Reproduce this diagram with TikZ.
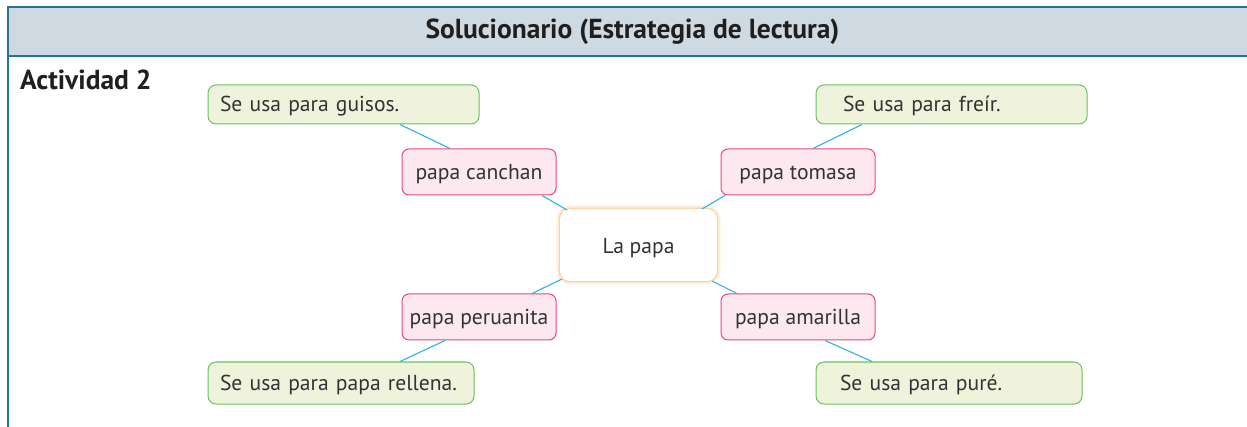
\documentclass[tikz,border=0pt]{standalone}
\usepackage{fontspec}
\setmainfont{PT Sans}
\usetikzlibrary{calc}
\definecolor{hdrfill}{HTML}{CFD9E1}
\definecolor{hdrline}{HTML}{25758F}
\definecolor{txt}{HTML}{333333}
\definecolor{gfill}{HTML}{EFF3DC}
\definecolor{gline}{HTML}{6CBF5C}
\definecolor{pfill}{HTML}{FDE8F0}
\definecolor{pline}{HTML}{E8477C}
\definecolor{cline}{HTML}{2AB3E6}
\definecolor{glowA}{HTML}{FFEFD8}
\definecolor{glowB}{HTML}{FAD2A6}
\tikzset{
  boxtext/.style={font=\fontsize{21.6}{24}\selectfont, text=txt, text height=16pt, text depth=1pt},
  gbox/.style={boxtext, draw=gline, fill=gfill, line width=1pt, rounded corners=8pt, align=left, inner ysep=0pt},
  pbox/.style={boxtext, draw=pline, fill=pfill, line width=1pt, rounded corners=7pt, minimum width=154pt, minimum height=46pt, inner sep=0pt},
  cbox/.style={boxtext, text height=18pt, text depth=0pt, fill=white, rounded corners=10pt, minimum width=157pt, minimum height=72pt, inner sep=0pt},
  link/.style={draw=cline, line width=1.1pt}
}
\begin{document}
\begin{tikzpicture}[x=1pt,y=-1pt]
\useasboundingbox (0,0) rectangle (1247,427);
% header
\fill[hdrfill] (8,7) rectangle (1247,56);
\draw[hdrline, line width=2pt] (8,7) -- (1247,7);
\draw[hdrline, line width=2pt] (8,56) -- (1247,56);
\draw[hdrline, line width=2pt] (8,6) -- (8,427);
\node[font=\bfseries\fontsize{27.5}{30}\selectfont, text=black!88] (title) at (632.5,32) {Solucionario (Estrategia de lectura)};
\node[font=\bfseries\fontsize{27.5}{30}\selectfont, text=black!88, anchor=base west, inner sep=0pt] (act) at (20,90) {Actividad 2};
% nodes
\node[gbox, minimum height=39pt, inner xsep=12pt, text width=247pt] (g1) at (343.5,104.5) {Se usa para guisos.};
\node[gbox, minimum height=39pt, inner xsep=27pt, text width=217pt] (g2) at (951.5,104.5) {Se usa para freír.};
\node[gbox, minimum height=42pt, inner xsep=12pt, text width=242pt] (g3) at (341,383) {Se usa para papa rellena.};
\node[gbox, minimum height=42pt, inner xsep=24pt, text width=218pt] (g4) at (949,383) {Se usa para puré.};
\node[pbox] (p1) at (479,172) {papa canchan};
\node[pbox] (p2) at (798,172) {papa tomasa};
\node[pbox] (p3) at (479,317) {papa peruanita};
\node[pbox] (p4) at (798,317) {papa amarilla};
% central node with glow
\draw[glowA, line width=7pt, rounded corners=11pt] (560,209) rectangle (717,281);
\draw[glowB, line width=2.5pt, rounded corners=10pt] (560,209) rectangle (717,281);
\node[cbox] (ce) at (638.5,245) {La papa};
% connectors
\draw[link] ($(g1.south)+(56.5,0)$) -- ($(p1.north)+(-29,0)$);
\draw[link] ($(p1.south)+(63,0)$) -- (567,210);
\draw[link] ($(g2.south)+(-89.5,0)$) -- ($(p2.north)+(15,0)$);
\draw[link] ($(p2.south)+(-73,0)$) -- (702,209);
\draw[link] (562,279) -- ($(p3.north)+(53,0)$);
\draw[link] ($(p3.south)+(-34,0)$) -- ($(g3.north)+(59,0)$);
\draw[link] (712,281) -- ($(p4.north)+(-61,0)$);
\draw[link] ($(p4.south)+(27,0)$) -- ($(g4.north)+(-77,0)$);
\end{tikzpicture}
\end{document}
